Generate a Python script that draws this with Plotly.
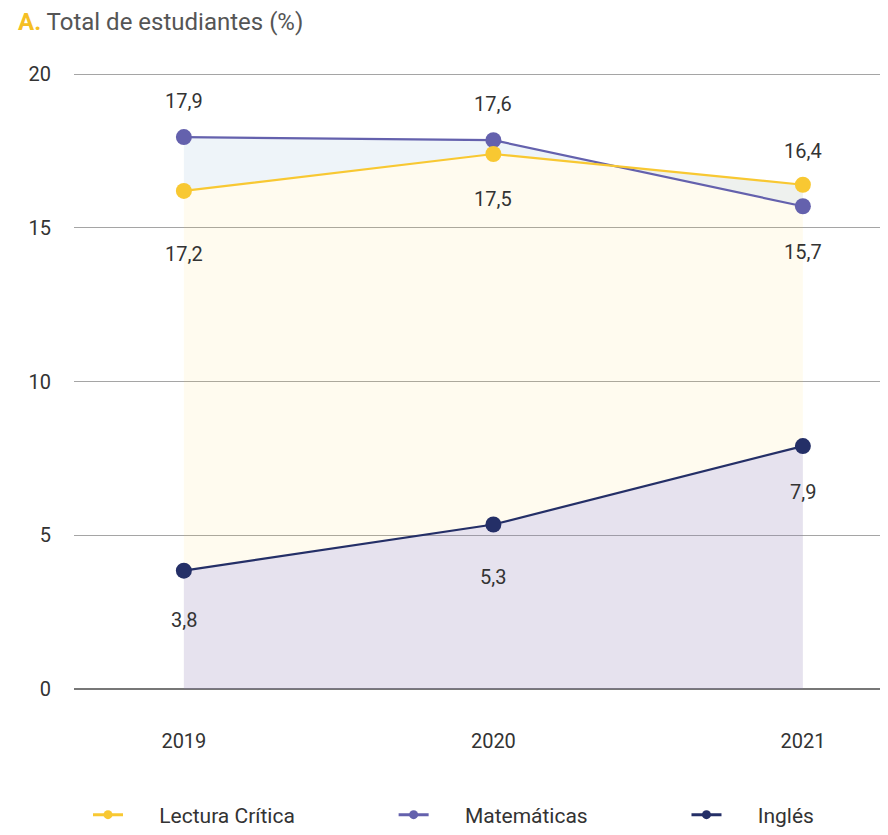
import plotly.graph_objects as go

# ---- data ----
years = ["2019", "2020", "2021"]
lectura = [16.2, 17.4, 16.4]
matematicas = [17.95, 17.85, 15.7]
ingles = [3.85, 5.35, 7.9]
lectura_labels = ["17,2", "17,5", "16,4"]
matematicas_labels = ["17,9", "17,6", "15,7"]
ingles_labels = ["3,8", "5,3", "7,9"]
y_ticks = [0, 5, 10, 15, 20]
series_names = ["Lectura Crítica", "Matemáticas", "Inglés"]

# ---- styles ----
C_LEC = "#f8c832"
C_MAT = "#6461ad"
C_ING = "#242f67"
FONT = "Roboto"
TXT = "#333333"
OFF = 8  # page body margin
W, H = 888 - OFF, 835 - OFF
Y_TOP = 20.1
PX_PER_UNIT = (689 - 74) / 20.0

# label offsets in px (positive = below point)
off_lec = [63, 45, -34]
off_mat = [-36, -36, 46]
off_ing = [49, 52, 46]

fig = go.Figure()

# Lectura area (fill to zero)
fig.add_trace(go.Scatter(x=years, y=lectura, mode="lines", line=dict(width=0, color=C_LEC),
                         fill="tozeroy", fillcolor="rgba(249,201,50,0.08)",
                         showlegend=False, hoverinfo="skip"))
# Matemáticas line + fill between it and Lectura
fig.add_trace(go.Scatter(x=years, y=matematicas, mode="lines+markers",
                         line=dict(width=2.2, color=C_MAT),
                         marker=dict(size=16, color=C_MAT),
                         fill="tonexty", fillcolor="rgba(200,220,235,0.3)",
                         showlegend=False))
# Lectura line
fig.add_trace(go.Scatter(x=years, y=lectura, mode="lines+markers",
                         line=dict(width=2.2, color=C_LEC),
                         marker=dict(size=16, color=C_LEC),
                         showlegend=False))
# Inglés line + area
fig.add_trace(go.Scatter(x=years, y=ingles, mode="lines+markers",
                         line=dict(width=2.2, color=C_ING),
                         marker=dict(size=16, color=C_ING),
                         fill="tozeroy", fillcolor="rgba(90,85,238,0.15)",
                         showlegend=False))

# legend-only entries
lead = "\u00a0" * 6
trail = ["\u00a0" * 18, "\u00a0" * 18, ""]
for name, col, tr in zip(series_names, [C_LEC, C_MAT, C_ING], trail):
    fig.add_trace(go.Scatter(x=[None], y=[None], mode="lines+markers", name=lead + name + tr,
                             line=dict(width=3, color=col), marker=dict(size=9, color=col)))

annotations = []
for vals, labs, offs in [(lectura, lectura_labels, off_lec),
                         (matematicas, matematicas_labels, off_mat),
                         (ingles, ingles_labels, off_ing)]:
    for i, (v, t, o) in enumerate(zip(vals, labs, offs)):
        annotations.append(dict(x=i, y=v, xref="x", yref="y", text=t, showarrow=False,
                                yshift=-o, xanchor="center", yanchor="middle",
                                font=dict(family=FONT, size=20, color=TXT)))

top_margin = (74 - OFF) - (Y_TOP - 20) * PX_PER_UNIT

fig.update_layout(
    width=W, height=H,
    margin=dict(l=74 - OFF, r=0, t=top_margin, b=H - (689 - OFF), autoexpand=False),
    paper_bgcolor="white", plot_bgcolor="white",
    font=dict(family=FONT, size=20, color=TXT),
    title=dict(text="<b><span style='color:#f5bf24'>A.</span></b> Total de estudiantes (%)",
               x=(18 - OFF) / W, xref="container", xanchor="left",
               y=1 - (22 - OFF) / H, yref="container", yanchor="middle",
               font=dict(family=FONT, size=24, color="#555555")),
    xaxis=dict(range=[-0.355, 2.275], showgrid=False, showline=False, zeroline=False,
               ticks="outside", ticklen=0, ticklabelstandoff=34,
               tickfont=dict(family=FONT, size=20, color=TXT)),
    yaxis=dict(range=[0, Y_TOP], tickvals=y_ticks, showgrid=True, gridcolor="#a5a5a5", gridwidth=1,
               zeroline=True, zerolinecolor="#777777", zerolinewidth=1.5, showline=False,
               ticks="outside", ticklen=0, ticklabelstandoff=18,
               tickfont=dict(family=FONT, size=20, color=TXT)),
    legend=dict(orientation="h", traceorder="normal", xref="container", yref="container",
                x=(88 - OFF) / W, y=1 - (815 - OFF) / H, xanchor="left", yanchor="middle",
                font=dict(family=FONT, size=21, color=TXT), bgcolor="rgba(0,0,0,0)"),
    annotations=annotations,
    hovermode=False,
)

fig.write_html("out.html")
